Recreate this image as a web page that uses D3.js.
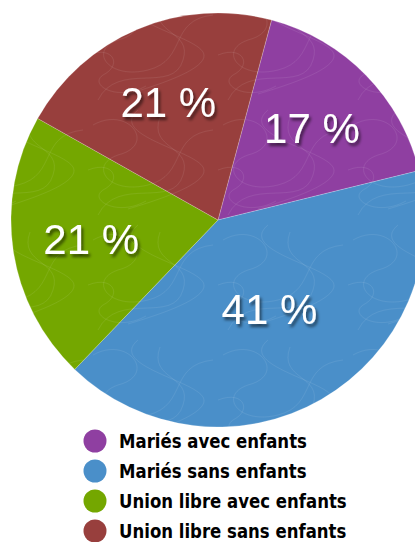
<!DOCTYPE html>
<html>
<head>
<meta charset="utf-8">
<script src="https://cdn.jsdelivr.net/npm/d3@7"></script>
<style>
  html, body { margin: 0; padding: 0; background: #fff; overflow: hidden; }
  svg { display: block; }
</style>
</head>
<body>
<div class="chart"></div>
<script>
var width = 415,
    height = 542,
    radius = 207,
    cx = 218,
    cy = 220;

// data
var categories = ["Mariés avec enfants", "Mariés sans enfants", "Union libre avec enfants", "Union libre sans enfants"];
var values = [17, 41, 21, 21];
var colors = ["#8f3fa1", "#4a8fc9", "#74a700", "#983f3d"];

var svg = d3.select("div.chart")
    .append("svg")
    .attr("width", width)
    .attr("height", height);

var defs = svg.append("defs");

var shadow = defs.append("filter")
    .attr("id", "shadow")
    .attr("x", "-20%").attr("y", "-20%")
    .attr("width", "140%").attr("height", "160%");
shadow.append("feDropShadow")
    .attr("dx", 2).attr("dy", 3)
    .attr("stdDeviation", 1.8)
    .attr("flood-color", "#000")
    .attr("flood-opacity", 0.55);

// scribble texture
var pattern = defs.append("pattern")
    .attr("id", "scribble")
    .attr("patternUnits", "userSpaceOnUse")
    .attr("width", 130).attr("height", 115);
var loops = [
  "M5,20 C40,0 70,40 30,50 C0,60 20,90 60,80 C100,70 80,30 125,25",
  "M10,110 C30,70 85,105 95,70 C105,40 60,45 72,12",
  "M50,5 C20,30 105,45 115,62 C124,78 70,95 40,104",
  "M0,65 C25,55 35,75 15,85 C0,95 30,112 58,96"
];
loops.forEach(function(p) {
  pattern.append("path")
    .attr("d", p)
    .attr("fill", "none")
    .attr("stroke", "#fff")
    .attr("stroke-opacity", 0.08)
    .attr("stroke-width", 1);
});

var startAngle = 15 * Math.PI / 180;

var pie = d3.pie()
    .sort(null)
    .startAngle(startAngle)
    .endAngle(startAngle + 2 * Math.PI);

var arc = d3.arc()
    .innerRadius(0)
    .outerRadius(radius);

var arcs = pie(values);

var g = svg.append("g")
    .attr("transform", "translate(" + cx + "," + cy + ")");

g.selectAll("path.slice")
    .data(arcs)
    .enter()
    .append("path")
    .attr("class", "slice")
    .attr("d", arc)
    .attr("fill", function(d, i) { return colors[i]; })
    .attr("stroke", "rgba(255,255,255,0.35)")
    .attr("stroke-width", 0.6);

g.selectAll("path.tex")
    .data(arcs)
    .enter()
    .append("path")
    .attr("class", "tex")
    .attr("d", arc)
    .attr("fill", "url(#scribble)");

// labels at the area centroid of each sector
g.selectAll("text.pct")
    .data(arcs)
    .enter()
    .append("text")
    .attr("class", "pct")
    .attr("transform", function(d) {
      var half = (d.endAngle - d.startAngle) / 2,
          mid = d.startAngle + half,
          dist = 2 * radius * Math.sin(half) / (3 * half);
      return "translate(" + (Math.sin(mid) * dist) + "," + (-Math.cos(mid) * dist) + ")";
    })
    .attr("dy", "0.36em")
    .attr("text-anchor", "middle")
    .attr("font-family", "'Liberation Sans', Arial, Helvetica, sans-serif")
    .attr("font-size", 42)
    .attr("fill", "#fff")
    .attr("filter", "url(#shadow)")
    .style("white-space", "pre")
    .text(function(d) { return d.data + " %"; });

// legend
var legend = svg.append("g")
    .attr("transform", "translate(95,441)");

var rows = legend.selectAll("g")
    .data(categories)
    .enter()
    .append("g")
    .attr("transform", function(d, i) { return "translate(0," + (i * 30) + ")"; });

rows.append("circle")
    .attr("r", 11.5)
    .attr("fill", function(d, i) { return colors[i]; });

rows.append("text")
    .attr("transform", "translate(24,0) scale(0.92,1)")
    .attr("dy", "0.36em")
    .attr("font-family", "'Liberation Sans Narrow', 'Arial Narrow', 'DejaVu Sans Condensed', sans-serif")
    .attr("font-weight", "bold")
    .attr("font-size", 20)
    .attr("fill", "#000")
    .text(function(d) { return d; });
</script>
</body>
</html>
